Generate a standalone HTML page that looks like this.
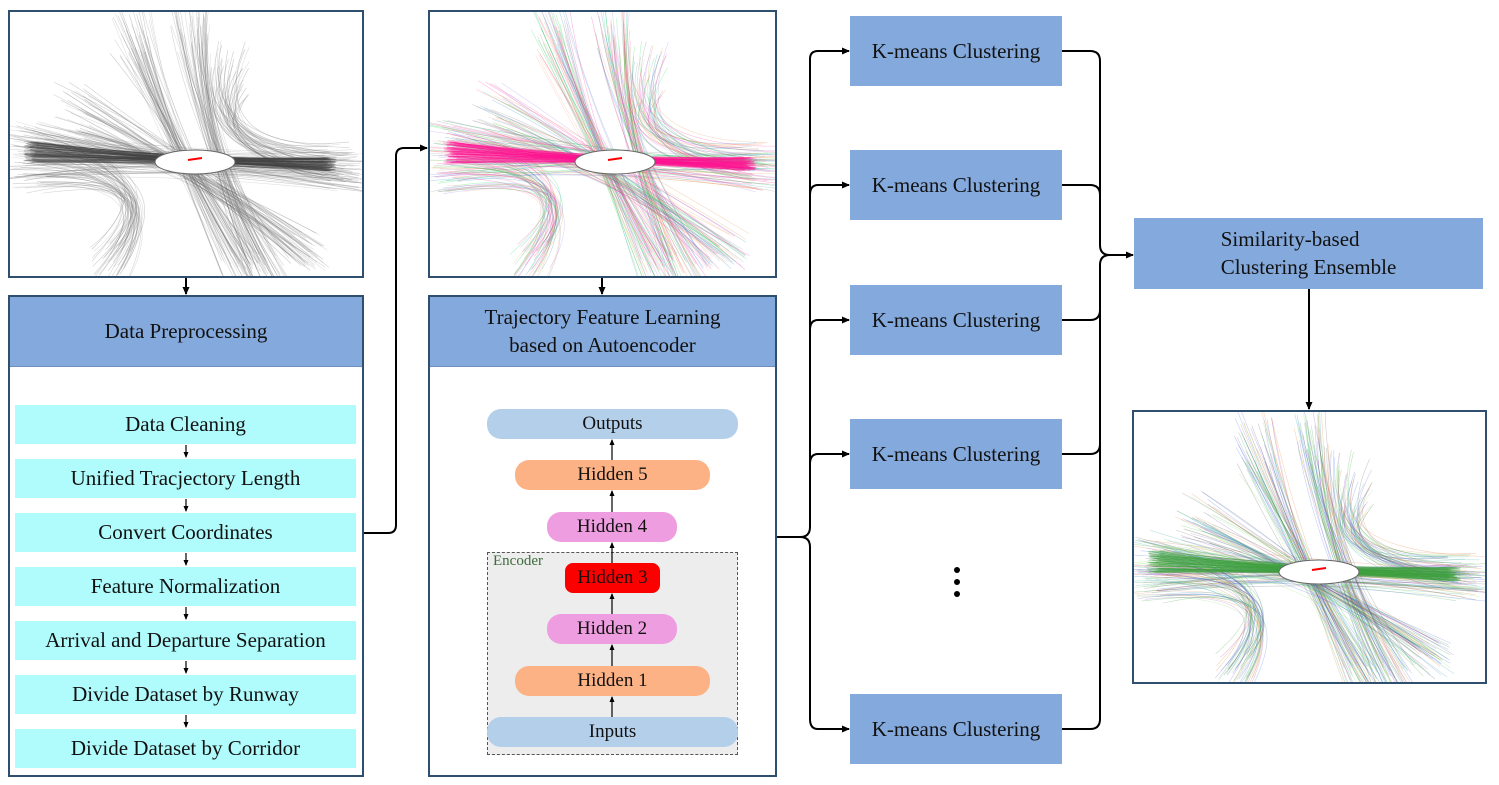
<!DOCTYPE html>
<html><head><meta charset="utf-8"><style>
body{margin:0;background:#fff;width:1499px;height:785px;overflow:hidden;font-family:"Liberation Serif",serif;}
.abs{position:absolute;box-sizing:border-box;}
.frame{border:2px solid #2f4f6f;background:#fff;}
.hdr{background:#84a9dc;display:flex;align-items:center;justify-content:center;text-align:center;font-size:21px;color:#111;line-height:1.3;border-bottom:1px solid #6e8fc0;}
.cy{background:#b0fcfc;display:flex;align-items:center;justify-content:center;font-size:21px;color:#111;}
.km{background:#84a9dc;display:flex;align-items:center;justify-content:center;font-size:21px;color:#111;}
.pill{display:flex;align-items:center;justify-content:center;font-size:19px;color:#111;border-radius:14px;}
</style></head><body>
<div class="abs frame" style="left:8px;top:10px;width:356px;height:268px;"><svg id="img1" width="352" height="264"></svg></div>
<div class="abs frame" style="left:428px;top:10px;width:349px;height:268px;"><svg id="img2" width="345" height="264"></svg></div>
<div class="abs frame" style="left:1132px;top:410px;width:355px;height:274px;"><svg id="img3" width="351" height="270"></svg></div>

<div class="abs frame" style="left:8px;top:295px;width:356px;height:482px;">
 <div class="hdr" style="height:69px;">Data Preprocessing</div>
</div>
<div class="abs cy" style="left:15px;top:405px;width:341px;height:39px;">Data Cleaning</div>
<div class="abs cy" style="left:15px;top:459px;width:341px;height:39px;">Unified Tracjectory Length</div>
<div class="abs cy" style="left:15px;top:513px;width:341px;height:39px;">Convert Coordinates</div>
<div class="abs cy" style="left:15px;top:567px;width:341px;height:39px;">Feature Normalization</div>
<div class="abs cy" style="left:15px;top:621px;width:341px;height:39px;">Arrival and Departure Separation</div>
<div class="abs cy" style="left:15px;top:675px;width:341px;height:39px;">Divide Dataset by Runway</div>
<div class="abs cy" style="left:15px;top:729px;width:341px;height:39px;">Divide Dataset by Corridor</div>

<div class="abs frame" style="left:428px;top:295px;width:349px;height:482px;">
 <div class="hdr" style="height:69px;">Trajectory Feature Learning<br>based on Autoencoder</div>
</div>
<div class="abs" style="left:487px;top:552px;width:251px;height:203px;background:#ededed;border:1.5px dashed #555;"></div>
<div class="abs" style="left:493px;top:553px;font-size:15px;color:#3e6b3e;">Encoder</div>
<div class="abs pill" style="left:487px;top:409px;width:251px;height:30px;background:#b4cfea;">Outputs</div>
<div class="abs pill" style="left:515px;top:460px;width:195px;height:30px;background:#fdb285;">Hidden 5</div>
<div class="abs pill" style="left:547px;top:512px;width:130px;height:30px;background:#ee9ee0;">Hidden 4</div>
<div class="abs pill" style="left:565px;top:563px;width:95px;height:30px;background:#fc0000;border-radius:8px;">Hidden 3</div>
<div class="abs pill" style="left:547px;top:614px;width:130px;height:30px;background:#ee9ee0;">Hidden 2</div>
<div class="abs pill" style="left:515px;top:666px;width:195px;height:30px;background:#fdb285;">Hidden 1</div>
<div class="abs pill" style="left:487px;top:717px;width:251px;height:30px;background:#b4cfea;">Inputs</div>

<div class="abs km" style="left:850px;top:16px;width:212px;height:70px;">K-means Clustering</div>
<div class="abs km" style="left:850px;top:150px;width:212px;height:70px;">K-means Clustering</div>
<div class="abs km" style="left:850px;top:285px;width:212px;height:70px;">K-means Clustering</div>
<div class="abs km" style="left:850px;top:419px;width:212px;height:70px;">K-means Clustering</div>
<div class="abs km" style="left:850px;top:694px;width:212px;height:70px;">K-means Clustering</div>
<div class="abs km" style="left:1134px;top:218px;width:349px;height:71px;flex-direction:column;line-height:1.3;">Similarity-based<br>Clustering Ensemble</div>

<svg class="abs" style="left:0;top:0;" width="1499" height="785">
<defs><marker id="a" markerWidth="8" markerHeight="8" refX="7" refY="4" orient="auto" markerUnits="userSpaceOnUse"><path d="M0,0.5 L8,4 L0,7.5z" fill="#000"/></marker>
<marker id="s" markerWidth="6" markerHeight="6" refX="5" refY="3" orient="auto" markerUnits="userSpaceOnUse"><path d="M0,0.5 L6,3 L0,5.5z" fill="#000"/></marker></defs>
<g stroke="#000" stroke-width="2" fill="none">
<line x1="186" y1="278" x2="186" y2="294" marker-end="url(#a)"/>
<line x1="602" y1="278" x2="602" y2="294" marker-end="url(#a)"/>
<path d="M364,533 H388 Q396,533 396,525 V156 Q396,148 404,148 H427" marker-end="url(#a)"/>
<line x1="1309" y1="289" x2="1309" y2="409" marker-end="url(#a)"/>
<path d="M777,537 H800 Q810,537 810,527 V59 Q810,51 818,51 H849" marker-end="url(#a)"/>
<path d="M810,527 V195 Q810,185 818,185 H849" marker-end="url(#a)"/>
<path d="M810,330 Q810,320 818,320 H849" marker-end="url(#a)"/>
<path d="M810,464 Q810,454 818,454 H849" marker-end="url(#a)"/>
<path d="M800,537 Q810,537 810,547 V719 Q810,729 818,729 H849" marker-end="url(#a)"/>
<path d="M1062,51 H1090 Q1100,51 1100,61 V245 Q1100,255 1110,255 H1133" marker-end="url(#a)"/>
<path d="M1062,185 H1090 Q1100,185 1100,195"/>
<path d="M1062,320 H1090 Q1100,320 1100,310 V265 Q1100,255 1110,255"/>
<path d="M1062,454 H1090 Q1100,454 1100,444"/>
<path d="M1062,729 H1090 Q1100,729 1100,719 V265"/>
</g>
<g stroke="#000" stroke-width="1.2">
<line x1="186" y1="445" x2="186" y2="457" marker-end="url(#s)"/>
<line x1="186" y1="499" x2="186" y2="511" marker-end="url(#s)"/>
<line x1="186" y1="553" x2="186" y2="565" marker-end="url(#s)"/>
<line x1="186" y1="607" x2="186" y2="619" marker-end="url(#s)"/>
<line x1="186" y1="661" x2="186" y2="673" marker-end="url(#s)"/>
<line x1="186" y1="715" x2="186" y2="727" marker-end="url(#s)"/>
<line x1="612" y1="717" x2="612" y2="697" marker-end="url(#s)"/>
<line x1="612" y1="666" x2="612" y2="645" marker-end="url(#s)"/>
<line x1="612" y1="614" x2="612" y2="594" marker-end="url(#s)"/>
<line x1="612" y1="563" x2="612" y2="543" marker-end="url(#s)"/>
<line x1="612" y1="512" x2="612" y2="491" marker-end="url(#s)"/>
<line x1="612" y1="460" x2="612" y2="440" marker-end="url(#s)"/>
</g>
<circle cx="957" cy="570" r="3" fill="#000"/><circle cx="957" cy="582" r="3" fill="#000"/><circle cx="957" cy="594" r="3" fill="#000"/>
</svg>
<script>
var seed=7;function r(){seed=(seed*16807)%2147483647;return seed/2147483647;}
function draw(id,ox,oy,cols,main){var s=document.getElementById(id),h='';
var bundles=[[[10,140,60],[170,150],[340,160]],[[120,20,50],[165,140],[230,260]],[[180,10,50],[190,130],[260,260]],[[20,150,50],[170,160],[100,250]],[[220,60,50],[190,140],[330,150]],[[60,100,50],[180,150],[300,240]],[[20,140,120],[160,148],[320,152]]];
for(var b=0;b<bundles.length;b++){var p=bundles[b];var n=p[0][2];for(var i=0;i<n;i++){
var k=b==6?14:40;var j=function(){return (r()-0.5)*k;};
var c=(b==6&&main)?main:cols[(b+i)%cols.length];
h+='<path d="M'+(ox+p[0][0]+j())+','+(oy+p[0][1]+j()*1.6)+' Q'+(ox+p[1][0]+j()*0.4)+','+(oy+p[1][1]+j()*0.6)+' '+(ox+p[2][0]+j())+','+(oy+p[2][1]+j())+'" stroke="'+c+'" stroke-width="0.6" fill="none" opacity="'+(b==6?0.35:0.3)+'"/>';}}
h+='<ellipse cx="'+(ox+185)+'" cy="'+(oy+150)+'" rx="40" ry="12" fill="#fff" stroke="#666" stroke-width="1"/>';
h+='<line x1="'+(ox+178)+'" y1="'+(oy+148)+'" x2="'+(ox+192)+'" y2="'+(oy+146)+'" stroke="red" stroke-width="2"/>';
s.innerHTML=h;}
draw('img1',0,0,['#555','#777','#999'],'#444');
draw('img2',0,0,['#ff1493','#00e040','#f4a080','#a070e0','#e09040','#2080c0','#777'],'#ff1493');
draw('img3',0,10,['#30a030','#e07030','#8040c0','#20a0a0','#80e060','#555','#3060e0'],'#40a040');
</script>
</body></html>
